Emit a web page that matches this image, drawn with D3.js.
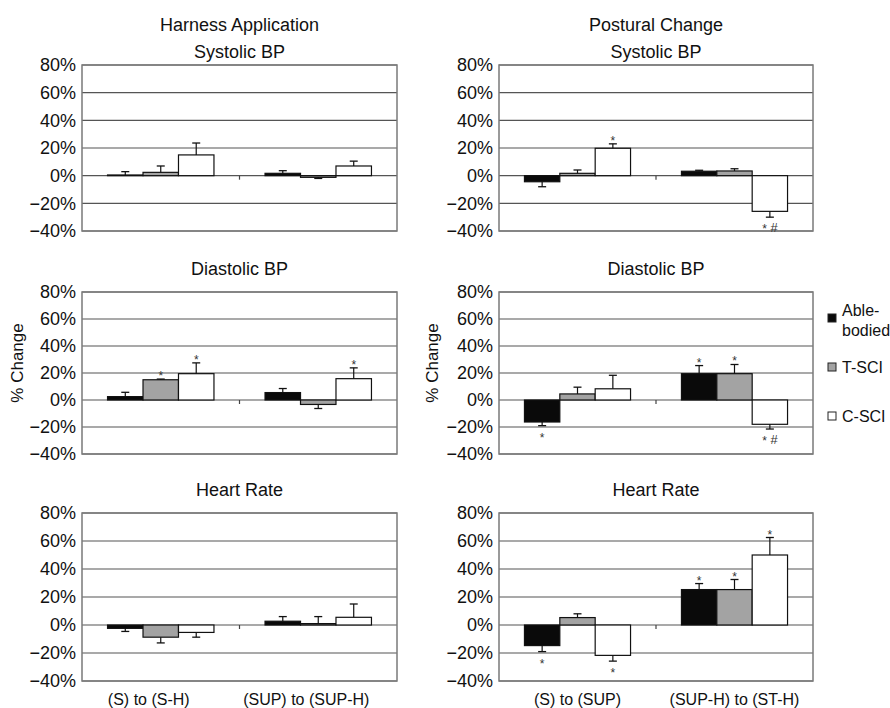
<!DOCTYPE html>
<html>
<head>
<meta charset="utf-8">
<script src="https://cdn.jsdelivr.net/npm/d3@7"></script>
<style>
  body { margin: 0; background: #fff; }
  svg { font-family: "Liberation Sans", Arial, sans-serif; }
</style>
</head>
<body>
<div id="chart"></div>
<script>
// groups and categories
const series = ["Able-bodied", "T-SCI", "C-SCI"];
const seriesColors = ["#0a0a0a", "#a3a3a3", "#ffffff"];
const harnessCats = ["(S) to (S-H)", "(SUP) to (SUP-H)"];
const posturalCats = ["(S) to (SUP)", "(SUP-H) to (ST-H)"];
const yTicks = [-40, -20, 0, 20, 40, 60, 80];

// % change per category, one value per group (Able-bodied, T-SCI, C-SCI)
const harnessSys = [[0.5, 2.4, 15], [1.7, -1.2, 7]];
const harnessSysErr = [[2.4, 4.6, 8.6], [1.9, 0.8, 3.5]];
const harnessSysSig = [["", "", ""], ["", "", ""]];

const posturalSys = [[-4.4, 1.7, 19.8], [3.2, 3.4, -25.8]];
const posturalSysErr = [[3.6, 2.4, 3.2], [0.7, 1.6, 4.2]];
const posturalSysSig = [["", "", "*"], ["", "", "*#"]];

const harnessDia = [[2.5, 15, 19.5], [5.5, -3.3, 15.8]];
const harnessDiaErr = [[3.2, 0.5, 8], [3, 3, 8]];
const harnessDiaSig = [["", "*", "*"], ["", "", "*"]];

const posturalDia = [[-16.3, 4.5, 8.3], [19.5, 19.5, -18]];
const posturalDiaErr = [[2.7, 5, 10], [6, 6.8, 3.5]];
const posturalDiaSig = [["*", "", ""], ["*", "*", "*#"]];

const harnessHR = [[-2.4, -8.7, -5.3], [2.7, 1, 5.5]];
const harnessHRErr = [[2.2, 4.1, 3.4], [3.3, 5, 9.5]];
const harnessHRSig = [["", "", ""], ["", "", ""]];

const posturalHR = [[-14.7, 5.3, -21.7], [25.3, 25.3, 50]];
const posturalHRErr = [[4.3, 2.7, 4.1], [4.3, 7.2, 12.5]];
const posturalHRSig = [["*", "", "*"], ["*", "*", "*"]];

const W = 890, H = 708;
const cols = [[82, 397], [499, 813]];
const rows = [[65, 231], [292, 454], [513, 681]];

const panels = [
  { c: 0, r: 0, title: ["Harness Application", "Systolic BP"], cats: harnessCats, vals: harnessSys, err: harnessSysErr, sig: harnessSysSig },
  { c: 1, r: 0, title: ["Postural Change", "Systolic BP"], cats: posturalCats, vals: posturalSys, err: posturalSysErr, sig: posturalSysSig },
  { c: 0, r: 1, title: ["Diastolic BP"], cats: harnessCats, vals: harnessDia, err: harnessDiaErr, sig: harnessDiaSig },
  { c: 1, r: 1, title: ["Diastolic BP"], cats: posturalCats, vals: posturalDia, err: posturalDiaErr, sig: posturalDiaSig },
  { c: 0, r: 2, title: ["Heart Rate"], cats: harnessCats, vals: harnessHR, err: harnessHRErr, sig: harnessHRSig },
  { c: 1, r: 2, title: ["Heart Rate"], cats: posturalCats, vals: posturalHR, err: posturalHRErr, sig: posturalHRSig }
];

const svg = d3.select("#chart").append("svg")
  .attr("width", W).attr("height", H);

const fmt = d => (d < 0 ? "\u2212" + Math.abs(d) : d) + "%";

panels.forEach(p => {
  const [x0, x1] = cols[p.c];
  const [yTop, yBot] = rows[p.r];
  const y = d3.scaleLinear().domain([-40, 80]).range([yBot, yTop]);
  const x = d3.scaleBand().domain(p.cats).range([x0, x1]).paddingInner(0).paddingOuter(0);
  const xs = d3.scaleBand().domain(series).range([0, x.bandwidth()]).paddingInner(0).paddingOuter(0.72);

  const g = svg.append("g");

  // gridlines
  g.append("g").selectAll("line").data(yTicks).join("line")
    .attr("x1", x0).attr("x2", x1)
    .attr("y1", d => y(d)).attr("y2", d => y(d))
    .attr("stroke", "#555").attr("stroke-width", 1.2);

  // frame
  g.append("rect").attr("x", x0).attr("y", yTop)
    .attr("width", x1 - x0).attr("height", yBot - yTop)
    .attr("fill", "none").attr("stroke", "#7a7a7a").attr("stroke-width", 1.5);

  // y axis labels
  const yAxis = d3.axisLeft(y).tickValues(yTicks).tickFormat(fmt).tickSize(0).tickPadding(6);
  const ya = g.append("g").attr("transform", `translate(${x0},0)`).call(yAxis);
  ya.select(".domain").remove();
  ya.selectAll("text").attr("font-size", 18).attr("font-family", "Liberation Sans, Arial, sans-serif").attr("fill", "#111");

  // category divider tick on zero line
  g.append("line")
    .attr("x1", x(p.cats[1])).attr("x2", x(p.cats[1]))
    .attr("y1", y(0)).attr("y2", y(0) + 4)
    .attr("stroke", "#444").attr("stroke-width", 1.2);

  // bars
  p.cats.forEach((cat, ci) => {
    const cg = g.append("g").attr("transform", `translate(${x(cat)},0)`);
    const rowsData = series.map((s, si) => ({ s, si, v: p.vals[ci][si], e: p.err[ci][si], sig: p.sig[ci][si] }));

    cg.selectAll("rect.bar").data(rowsData).join("rect")
      .attr("class", "bar")
      .attr("x", d => xs(d.s))
      .attr("width", xs.bandwidth())
      .attr("y", d => Math.min(y(d.v), y(0)))
      .attr("height", d => Math.abs(y(d.v) - y(0)))
      .attr("fill", d => seriesColors[d.si])
      .attr("stroke", "#111").attr("stroke-width", 1.2);

    // error bars, one-sided away from zero
    const eb = cg.selectAll("g.err").data(rowsData).join("g").attr("class", "err");
    eb.append("line")
      .attr("x1", d => xs(d.s) + xs.bandwidth() / 2)
      .attr("x2", d => xs(d.s) + xs.bandwidth() / 2)
      .attr("y1", d => y(d.v))
      .attr("y2", d => y(d.v + Math.sign(d.v) * d.e))
      .attr("stroke", "#111").attr("stroke-width", 1.2);
    eb.append("line")
      .attr("x1", d => xs(d.s) + xs.bandwidth() / 2 - 4)
      .attr("x2", d => xs(d.s) + xs.bandwidth() / 2 + 4)
      .attr("y1", d => y(d.v + Math.sign(d.v) * d.e))
      .attr("y2", d => y(d.v + Math.sign(d.v) * d.e))
      .attr("stroke", "#111").attr("stroke-width", 1.3);

    // significance markers
    const sg = cg.selectAll("text.sig").data(rowsData.filter(d => d.sig)).join("text")
      .attr("class", "sig")
      .attr("x", d => xs(d.s) + xs.bandwidth() / 2)
      .attr("y", d => {
        const end = y(d.v + Math.sign(d.v) * d.e);
        return d.v >= 0 ? end + 1 : end + 16;
      })
      .attr("text-anchor", "middle")
      .attr("font-size", 12)
      .attr("fill", "#333");
    sg.each(function (d) {
      const t = d3.select(this);
      if (d.sig === "*#") {
        t.append("tspan").text("* ");
        t.append("tspan").attr("font-style", "italic").attr("font-size", 13).attr("dy", -1).text("#");
      } else {
        t.text(d.sig);
      }
    });
  });

  // titles
  const cx = (x0 + x1) / 2;
  const tBase = p.r === 0 ? [31, 58] : [rows[p.r][0] - 17];
  p.title.forEach((t, i) => {
    g.append("text").attr("x", cx).attr("y", tBase[i])
      .attr("text-anchor", "middle").attr("font-size", 18).attr("fill", "#111").text(t);
  });

  // category labels on bottom row
  if (p.r === 2) {
    g.selectAll("text.cat").data(p.cats).join("text")
      .attr("class", "cat")
      .attr("x", d => x(d) + x.bandwidth() / 2 - (p.c === 0 ? 12 : 0))
      .attr("y", 705)
      .attr("text-anchor", "middle").attr("font-size", 16).attr("fill", "#111")
      .text(d => d);
  }

  // % Change label in middle row
  if (p.r === 1) {
    const lx = p.c === 0 ? 17 : 432;
    g.append("text")
      .attr("transform", `translate(${lx + 6},${363}) rotate(-90)`)
      .attr("text-anchor", "middle").attr("font-size", 17).attr("fill", "#111")
      .text("% Change");
  }
});

// legend
const legendY = [318, 367, 416];
const lg = svg.append("g");
series.forEach((s, i) => {
  lg.append("rect").attr("x", 828).attr("y", legendY[i] - 4).attr("width", 8).attr("height", 8)
    .attr("fill", seriesColors[i]).attr("stroke", "#222").attr("stroke-width", 1);
  if (s === "Able-bodied") {
    lg.append("text").attr("x", 842).attr("y", 316).attr("font-size", 16).attr("fill", "#111").text("Able-");
    lg.append("text").attr("x", 842).attr("y", 336).attr("font-size", 16).attr("fill", "#111").text("bodied");
  } else {
    lg.append("text").attr("x", 842).attr("y", legendY[i] + 6).attr("font-size", 16).attr("fill", "#111").text(s);
  }
});
</script>
</body>
</html>
